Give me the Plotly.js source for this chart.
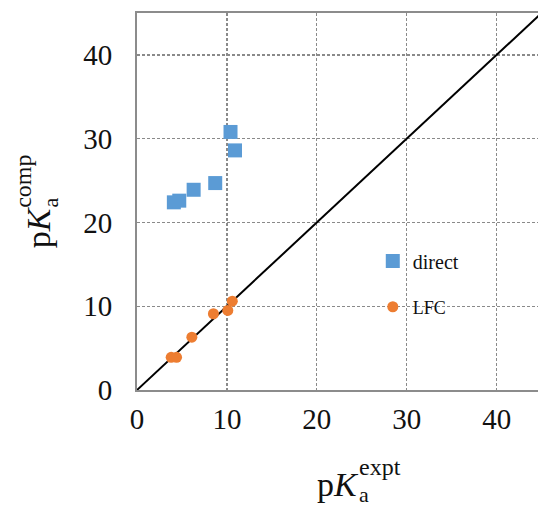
<!DOCTYPE html>
<html>
<head>
<meta charset="utf-8">
<script src="https://cdn.plot.ly/plotly-3.0.1.min.js"></script>
<style>
  html, body { margin: 0; padding: 0; background: #ffffff; }
  #chart { width: 538px; height: 507px; }
</style>
</head>
<body>
<div id="chart"></div>
<script>
// Experimental vs computed pKa values for the two methods
const directX = [4.1, 4.7, 6.3, 8.7, 10.4, 10.9];
const directY = [22.4, 22.6, 23.9, 24.7, 30.8, 28.6];
const lfcX = [3.8, 4.4, 6.1, 8.5, 10.1, 10.6];
const lfcY = [3.9, 3.9, 6.3, 9.1, 9.5, 10.6];

// y = x reference line
const parityX = [0, 50];
const parityY = [0, 50];

const tickValues = [0, 10, 20, 30, 40];
const tickLabels = ['0', '10', '20', '30', '40'];

const SERIF = 'Liberation Serif, Times New Roman, serif';

const traces = [
  {
    x: parityX, y: parityY, type: 'scatter', mode: 'lines',
    line: { color: '#000000', width: 2 },
    showlegend: false, hoverinfo: 'skip'
  },
  {
    x: directX, y: directY, type: 'scatter', mode: 'markers', name: 'direct',
    marker: { symbol: 'square', size: 14, color: '#5b9bd5' },
    legend: 'legend'
  },
  {
    x: lfcX, y: lfcY, type: 'scatter', mode: 'markers', name: 'LFC',
    marker: { symbol: 'circle', size: 11, color: '#ed7d31' },
    legend: 'legend2'
  }
];

const gridStyle = {
  showgrid: true, gridcolor: '#8a8a8a', gridwidth: 1.3, griddash: '3px,2px',
  zeroline: false,
  tickmode: 'array', tickvals: tickValues, ticktext: tickLabels,
  tickfont: { family: SERIF, size: 29, color: '#111111' },
  ticks: 'outside', tickcolor: 'rgba(0,0,0,0)'
};

const layout = {
  width: 538, height: 507,
  margin: { l: 137, r: 0, t: 13, b: 117, pad: 0 },
  paper_bgcolor: '#ffffff', plot_bgcolor: '#ffffff',
  showlegend: true,
  xaxis: Object.assign({}, gridStyle, {
    range: [0, 44.6], ticklen: 2,
    showline: true, linecolor: '#8c8c8c', linewidth: 2, mirror: true
  }),
  yaxis: Object.assign({}, gridStyle, {
    range: [0, 45], ticklen: 17,
    showline: true, linecolor: '#8c8c8c', linewidth: 2, mirror: false
  }),
  legend: {
    x: 0.588, y: 0.342, xanchor: 'left', yanchor: 'middle',
    bgcolor: 'rgba(0,0,0,0)', borderwidth: 0,
    font: { family: SERIF, size: 20, color: '#111111' }
  },
  legend2: {
    x: 0.588, y: 0.22, xanchor: 'left', yanchor: 'middle',
    bgcolor: 'rgba(0,0,0,0)', borderwidth: 0,
    font: { family: SERIF, size: 18, color: '#111111' }
  },
  annotations: [
    // x-axis title: pKa^expt
    { text: 'p<i>K</i>', xref: 'paper', yref: 'paper', x: 0.445, y: -0.25,
      xanchor: 'left', yanchor: 'middle', showarrow: false,
      font: { family: SERIF, size: 34, color: '#111111' } },
    { text: 'a', xref: 'paper', yref: 'paper', x: 0.548, y: -0.2772,
      xanchor: 'left', yanchor: 'middle', showarrow: false,
      font: { family: SERIF, size: 22, color: '#111111' } },
    { text: 'expt', xref: 'paper', yref: 'paper', x: 0.548, y: -0.2055,
      xanchor: 'left', yanchor: 'middle', showarrow: false,
      font: { family: SERIF, size: 24, color: '#111111' } },
    // y-axis title: pKa^comp
    { text: 'p<i>K</i>', xref: 'paper', yref: 'paper', x: -0.245, y: 0.37,
      xanchor: 'center', yanchor: 'bottom', textangle: -90, showarrow: false,
      font: { family: SERIF, size: 34, color: '#111111' } },
    { text: 'a', xref: 'paper', yref: 'paper', x: -0.215, y: 0.478,
      xanchor: 'center', yanchor: 'bottom', textangle: -90, showarrow: false,
      font: { family: SERIF, size: 22, color: '#111111' } },
    { text: 'comp', xref: 'paper', yref: 'paper', x: -0.283, y: 0.478,
      xanchor: 'center', yanchor: 'bottom', textangle: -90, showarrow: false,
      font: { family: SERIF, size: 24, color: '#111111' } }
  ]
};

Plotly.newPlot('chart', traces, layout, { displayModeBar: false, staticPlot: true });
</script>
</body>
</html>
